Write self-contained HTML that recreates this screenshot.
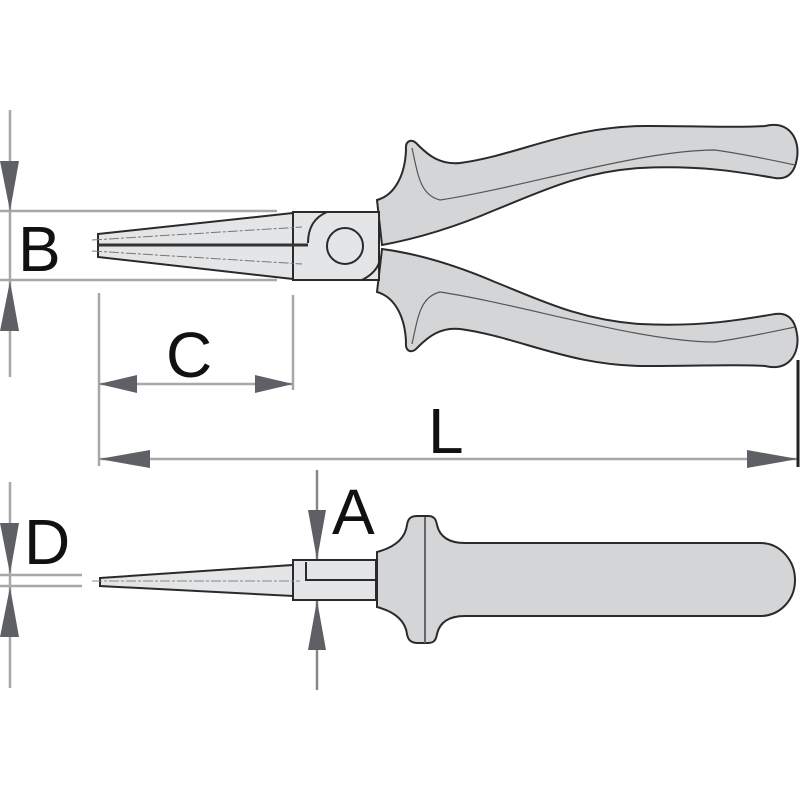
<!DOCTYPE html>
<html><head><meta charset="utf-8"><style>html,body{margin:0;padding:0;background:#fff}svg{display:block}</style></head>
<body>
<svg width="800" height="800" viewBox="0 0 800 800" xmlns="http://www.w3.org/2000/svg">
<rect width="800" height="800" fill="#fff"/>
<g stroke="#a8a8a8" stroke-width="2.5" fill="none">
  <line x1="10" y1="110" x2="10" y2="377"/>
  <line x1="0" y1="211" x2="277" y2="211"/>
  <line x1="0" y1="280" x2="277" y2="280"/>
  <line x1="99" y1="293" x2="99" y2="466"/>
  <line x1="293" y1="295" x2="293" y2="390"/>
  <line x1="99" y1="384" x2="293" y2="384"/>
  <line x1="99" y1="459" x2="798" y2="459"/>
  <line x1="10" y1="482" x2="10" y2="688"/>
  <line x1="0" y1="575" x2="82" y2="575"/>
  <line x1="0" y1="586" x2="82" y2="586"/>
  <line x1="317" y1="470" x2="317" y2="690" stroke="#888"/>
</g>
<line x1="798" y1="360" x2="798" y2="467" stroke="#222" stroke-width="3"/>
<g fill="#5e6066">
  <polygon points="0,161 19,161 10,211"/>
  <polygon points="0,331 19,331 10,281"/>
  <polygon points="99,384 137,375 137,393"/>
  <polygon points="293,384 255,375 255,393"/>
  <polygon points="99,459 150,450 150,468"/>
  <polygon points="798,459 747,450 747,468"/>
  <polygon points="0,523 19,523 10,574"/>
  <polygon points="0,637 19,637 10,587"/>
  <polygon points="308,510 326,510 317,560"/>
  <polygon points="308,650 326,650 317,600"/>
</g>
<g font-family="Liberation Sans, sans-serif" font-size="64" fill="#111">
  <text x="18" y="271">B</text>
  <text x="166" y="377">C</text>
  <text x="428" y="453">L</text>
  <text x="24" y="564">D</text>
  <text x="332" y="534">A</text>
</g>
<!-- top view handles -->
<g fill="#d4d5d7" stroke="#2a2a2a" stroke-width="2">
  <path d="M377,200 C395,195 405,175 406,150 C405,140 412,138 418,145 C428,155 440,165 460,163 C520,155 570,125 650,126 C700,126 740,128 765,126 C790,120 800,140 797,158 C795,172 788,180 775,178 C740,172 700,165 640,168 C580,172 540,192 495,210 C460,225 420,238 382,245 Z"/>
  <path d="M377,292 C395,297 405,317 406,342 C405,352 412,354 418,347 C428,337 440,327 460,329 C520,337 570,367 650,366 C700,366 740,364 765,366 C790,372 800,352 797,334 C795,320 788,312 775,314 C740,320 700,327 640,324 C580,320 540,300 495,282 C460,267 420,254 382,249 Z"/>
</g>
<g fill="none" stroke="#555" stroke-width="1.2">
  <path d="M412,148 C418,175 420,195 440,200 C520,188 640,150 715,150 C750,155 785,163 795,165"/>
  <path d="M412,344 C418,317 420,297 440,292 C520,304 640,342 715,342 C750,337 785,329 795,327"/>
</g>
<!-- jaws and head -->
<g stroke="#2a2a2a" stroke-width="2">
  <polygon points="98,234 293,213 293,279 98,257" fill="#e4e5e6"/>
  <rect x="293" y="212" width="86" height="68" fill="#e4e5e6"/>
  <path d="M327,212 C313,218 308,230 308,243" fill="none"/>
  <path d="M362,280 C372,275 378,268 380,260" fill="none"/>
  <circle cx="345" cy="246" r="18" fill="#e4e5e6"/>
</g>
<line x1="98" y1="245" x2="308" y2="245" stroke="#333" stroke-width="3"/>
<g stroke="#777" stroke-width="1" stroke-dasharray="10,2,3,2">
  <line x1="92" y1="240" x2="302" y2="227"/>
  <line x1="92" y1="251" x2="302" y2="264"/>
</g>
<!-- side view -->
<g stroke="#2a2a2a" stroke-width="2">
  <path d="M377,552 C392,548 405,540 407,525 C408,518 411,516 418,516 L428,516 C434,516 436,519 437,525 C440,538 450,543 465,543 L760,543 C780,543 795,560 795,580 C795,600 780,616 760,616 L465,616 C450,616 440,621 437,634 C436,640 434,643 428,643 L418,643 C411,643 408,640 407,634 C405,619 392,611 377,607 Z" fill="#d4d5d7"/>
  <line x1="425" y1="517" x2="425" y2="643" stroke="#666"/>
  <polygon points="100,578 293,565 293,596 100,586" fill="#e4e5e6"/>
  <rect x="293" y="560" width="83" height="40" fill="#e4e5e6"/>
  <polyline points="306,562 306,580 376,580" fill="none"/>
</g>
<line x1="92" y1="581" x2="300" y2="581" stroke="#888" stroke-width="1" stroke-dasharray="10,2,3,2"/>
</svg>
</body></html>
